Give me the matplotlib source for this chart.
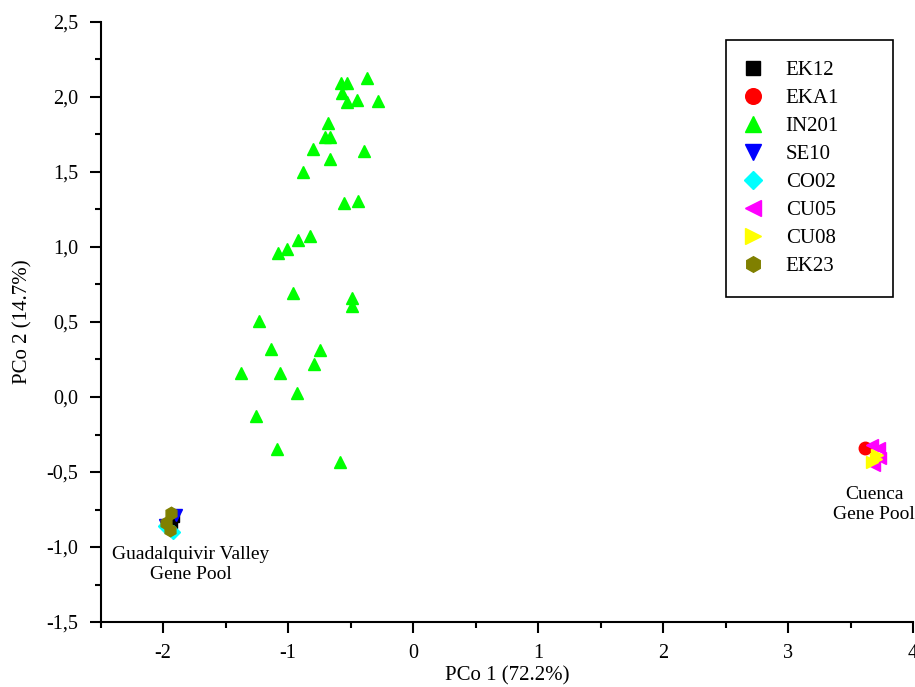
import matplotlib
matplotlib.use('Agg')
import matplotlib.pyplot as plt
from matplotlib.ticker import MultipleLocator, FuncFormatter

plt.rcParams['font.family'] = ['Liberation Serif', 'DejaVu Serif']

# PCo coordinates
in201_x = [-0.578, -0.532, -0.367, -0.570, -0.530, -0.448, -0.284, -0.680, -0.706, -0.666,
           -0.800, -0.666, -0.394, -0.885, -0.552, -0.444, -0.829, -0.925, -1.008, -1.085,
           -0.965, -0.492, -0.492, -1.235, -1.139, -0.746, -0.792, -1.381, -1.066, -0.933,
           -1.259, -1.093, -0.586]
in201_y = [2.095, 2.091, 2.129, 2.025, 1.969, 1.980, 1.975, 1.829, 1.731, 1.731,
           1.651, 1.587, 1.642, 1.498, 1.295, 1.309, 1.073, 1.047, 0.985, 0.958,
           0.691, 0.658, 0.607, 0.509, 0.318, 0.313, 0.220, 0.162, 0.162, 0.025,
           -0.127, -0.349, -0.431]

ek12_x = [-1.91, -1.93]
ek12_y = [-0.80, -0.84]
eka1_x = [3.615]
eka1_y = [-0.340]
se10_x = [-1.90, -1.985]
se10_y = [-0.785, -0.850]
co02_x = [-1.985, -1.925]
co02_y = [-0.860, -0.900]
cu05_x = [3.671, 3.724, 3.684, 3.737]
cu05_y = [-0.320, -0.342, -0.453, -0.409]
cu08_x = [3.711, 3.671, 3.700]
cu08_y = [-0.387, -0.431, -0.415]
ek23_x = [-1.941, -1.974, -1.945]
ek23_y = [-0.775, -0.842, -0.885]

fig = plt.figure(figsize=(9.15, 6.87), dpi=100)
ax = fig.add_axes([0.110, 0.0946, 0.888, 0.8734])

ms = 9
ax.plot(ek12_x, ek12_y, 's', color='black', ms=7.5, label='EK12', linestyle='none')
ax.plot(eka1_x, eka1_y, 'o', color='red', ms=ms, label='EKA1', linestyle='none')
ax.plot(in201_x, in201_y, '^', color='#00ff00', ms=ms, label='IN201', linestyle='none')
ax.plot(se10_x, se10_y, 'v', color='blue', ms=ms, label='SE10', linestyle='none')
ax.plot(co02_x, co02_y, 'D', color='cyan', ms=7.5, label='CO02', linestyle='none')
ax.plot(cu05_x, cu05_y, '<', color='magenta', ms=ms, label='CU05', linestyle='none')
ax.plot(cu08_x, cu08_y, '>', color='yellow', ms=ms, label='CU08', linestyle='none')
ax.plot(ek23_x, ek23_y, 'h', color='olive', ms=ms, label='EK23', linestyle='none')

ax.set_xlim(-2.5, 4)
ax.set_ylim(-1.5, 2.5)
ax.xaxis.set_major_locator(MultipleLocator(1))
ax.xaxis.set_minor_locator(MultipleLocator(0.5))
ax.yaxis.set_major_locator(MultipleLocator(0.5))
ax.yaxis.set_minor_locator(MultipleLocator(0.25))
ax.xaxis.set_major_formatter(FuncFormatter(lambda v, p: f'{v:.0f}'))
ax.yaxis.set_major_formatter(FuncFormatter(lambda v, p: f'{v:.1f}'.replace('.', ',')))

for s in ['top', 'right']:
    ax.spines[s].set_visible(False)
for s in ['left', 'bottom']:
    ax.spines[s].set_linewidth(1.5)
ax.tick_params(which='major', direction='out', length=8, width=1.5, labelsize=14.5, pad=8)
ax.tick_params(which='minor', direction='out', length=4, width=1.5)

ax.set_xlabel('PCo 1 (72.2%)', fontsize=15, labelpad=2)
ax.set_ylabel('PCo 2 (14.7%)', fontsize=15, labelpad=10)

ax.text(-1.779, -1.117, 'Guadalquivir Valley\nGene Pool', fontsize=14,
        ha='center', va='center', multialignment='center')
ax.text(3.689, -0.717, 'Cuenca\nGene Pool', fontsize=14,
        ha='center', va='center', multialignment='center')

leg = ax.legend(loc='upper left', bbox_to_anchor=(0.770, 0.557, 0.205, 0.413),
                mode='expand', borderaxespad=0, fontsize=15, numpoints=1,
                markerscale=1.25, borderpad=1.0, labelspacing=0.4, handlelength=0.6,
                handletextpad=1.25, fancybox=False, framealpha=1)
leg.get_frame().set_edgecolor('black')
leg.get_frame().set_linewidth(1.2)

fig.savefig('out.png', dpi=100)
